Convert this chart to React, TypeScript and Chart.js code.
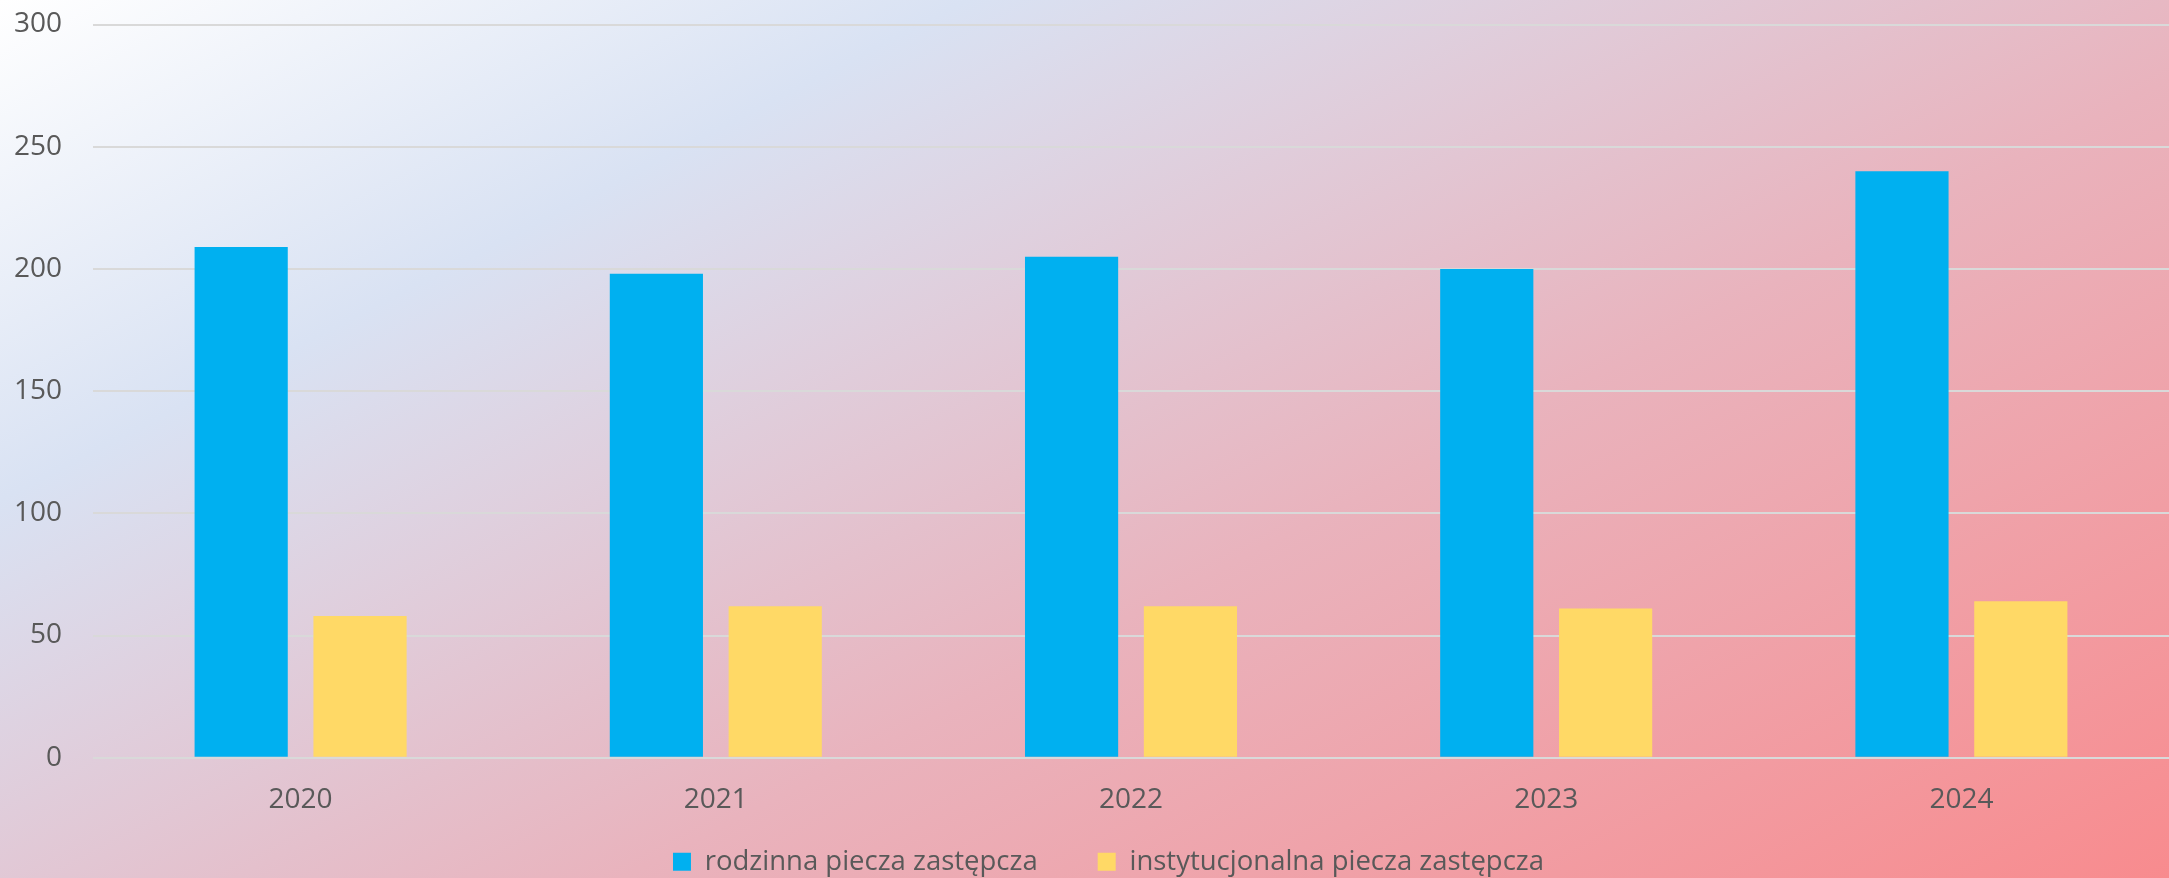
import React, { useEffect, useRef } from "react";
import { Chart, registerables } from "chart.js";

Chart.register(...registerables);

const categories = ["2020", "2021", "2022", "2023", "2024"];
const rodzinna = [209, 198, 205, 200, 240];
const instytucjonalna = [58, 62, 62, 61, 64];
const seriesNames = ["rodzinna piecza zastępcza", "instytucjonalna piecza zastępcza"];
const yMin = 0;
const yMax = 300;
const yStep = 50;

const FONT = "'Open Sans', 'Noto Sans', sans-serif";
const TEXT = "#595959";

export default function App() {
  const ref = useRef<HTMLCanvasElement | null>(null);

  useEffect(() => {
    if (!ref.current) return;
    const legendPlacer = {
      id: "legendPlacer",
      beforeLayout(chart: any) {
        const l = chart.legend;
        if (l && !l.__patched) {
          const orig = l.fit.bind(l);
          l.fit = function () {
            orig();
            this.height = 60;
          };
          l.__patched = true;
        }
      },
      afterLayout(chart: any) {
        const l = chart.legend;
        if (l) {
          l.left += 24;
          l.right += 24;
          l.top = 788;
          l.bottom = 886;
          l.height = 98;
        }
      },
    };
    const chart = new Chart(ref.current, {
      type: "bar",
      data: {
        labels: categories,
        datasets: [
          {
            label: seriesNames[0],
            data: rodzinna,
            backgroundColor: "#00b0f0",
            borderWidth: 0,
            categoryPercentage: 0.5725,
            barPercentage: 0.784,
          },
          {
            label: seriesNames[1],
            data: instytucjonalna,
            backgroundColor: "#ffd966",
            borderWidth: 0,
            categoryPercentage: 0.5725,
            barPercentage: 0.784,
          },
        ],
      },
      options: {
        responsive: false,
        animation: false,
        devicePixelRatio: 1,
        layout: { padding: { top: 24.5, left: 0, right: 0, bottom: 0 } },
        plugins: {
          tooltip: { enabled: false },
          legend: {
            position: "bottom",
            labels: {
              boxWidth: 18,
              boxHeight: 18,
              padding: 60,
              color: TEXT,
              font: { family: FONT, size: 27.5 },
            },
          },
        },
        scales: {
          x: {
            grid: { display: false, drawTicks: false },
            border: { display: false },
            ticks: { color: TEXT, font: { family: FONT, size: 28 }, padding: 26 },
            afterFit: (s: any) => {
              s.height = 60.3;
            },
          },
          y: {
            min: yMin,
            max: yMax,
            ticks: { stepSize: yStep, color: TEXT, font: { family: FONT, size: 28 }, padding: 31 },
            grid: { color: "#d9d9d9", lineWidth: 2, drawTicks: false },
            border: { display: false },
            afterFit: (s: any) => {
              s.width = 93;
              s.paddingTop = 0;
            },
          },
        },
      },
      plugins: [legendPlacer],
    });
    return () => chart.destroy();
  }, []);

  return (
    <div
      style={{
        position: "absolute",
        left: 0,
        top: 0,
        width: 2169,
        height: 878,
        background:
          "linear-gradient(152.7deg, #ffffff 0%, #d9e2f3 25%, #e4c0cc 50%, #e9b3bd 60%, #f88b8e 100%)",
      }}
    >
      <canvas ref={ref} width={2169} height={878} style={{ display: "block" }} />
    </div>
  );
}
